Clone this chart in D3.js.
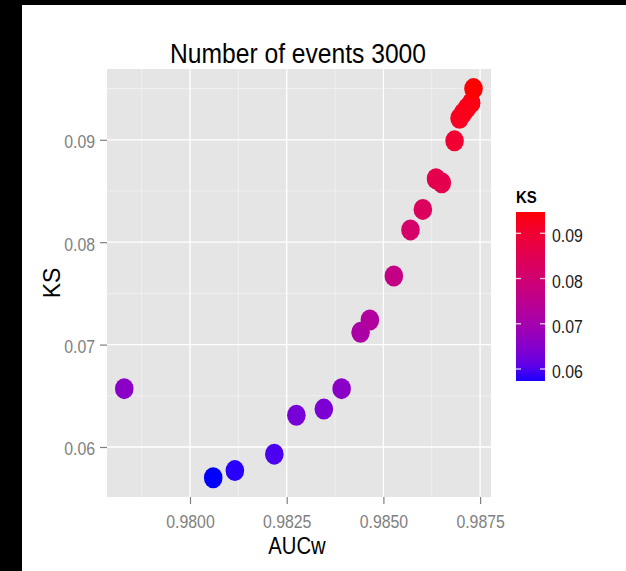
<!DOCTYPE html>
<html>
<head>
<meta charset="utf-8">
<script src="https://cdn.jsdelivr.net/npm/d3@7"></script>
<style>
  body { margin: 0; background: #fff; }
  text { font-family: "Liberation Sans", Arial, sans-serif; }
</style>
</head>
<body>
<div id="chart"></div>
<script>
// --- Data ---
const aucw = [0.97830, 0.98060, 0.98116, 0.98218, 0.98275, 0.98346, 0.98392, 0.98441, 0.98465, 0.98527,
              0.98570, 0.98602, 0.98636, 0.98651, 0.98684, 0.98697, 0.98706, 0.98716, 0.98727, 0.98733];
const ks   = [0.0657, 0.0570, 0.0577, 0.0593, 0.0631, 0.0637, 0.0657, 0.0712, 0.0724, 0.0767,
              0.0812, 0.0832, 0.0862, 0.0858, 0.0899, 0.0921, 0.0926, 0.0931, 0.0936, 0.0950];
const xTicks = [0.9800, 0.9825, 0.9850, 0.9875];
const yTicks = [0.06, 0.07, 0.08, 0.09];
const xMinor = [0.97875, 0.98125, 0.98375, 0.98625];
const yMinor = [0.065, 0.075, 0.085, 0.095];
const legendTicks = [0.06, 0.07, 0.08, 0.09];

const W = 626, H = 571;
const squeeze = 0.88; // the reference text is a little narrow

const svg = d3.select("#chart").append("svg")
    .attr("width", W).attr("height", H);

// black frame edges in the screenshot
svg.append("rect").attr("x", 0).attr("y", 0).attr("width", 22).attr("height", H).attr("fill", "#000");
svg.append("rect").attr("x", 0).attr("y", 0).attr("width", W).attr("height", 5).attr("fill", "#000");

// --- Panel ---
const panel = { left: 107, right: 491, top: 69, bottom: 497 };
const x = d3.scaleLinear().domain([0.977854, 0.987782]).range([panel.left, panel.right]);
const y = d3.scaleLinear().domain([0.055117, 0.096914]).range([panel.bottom, panel.top]);
const color = d3.scaleSequential(d3.interpolateLab("blue", "red")).domain(d3.extent(ks));

svg.append("rect")
    .attr("x", panel.left).attr("y", panel.top)
    .attr("width", panel.right - panel.left).attr("height", panel.bottom - panel.top)
    .attr("fill", "#E5E5E5");

const grid = svg.append("g");
grid.selectAll(".xminor").data(xMinor).join("line")
    .attr("x1", d => x(d)).attr("x2", d => x(d))
    .attr("y1", panel.top).attr("y2", panel.bottom)
    .attr("stroke", "#F2F2F2").attr("stroke-width", 0.8);
grid.selectAll(".yminor").data(yMinor).join("line")
    .attr("y1", d => y(d)).attr("y2", d => y(d))
    .attr("x1", panel.left).attr("x2", panel.right)
    .attr("stroke", "#F2F2F2").attr("stroke-width", 0.8);
grid.selectAll(".xmajor").data(xTicks).join("line")
    .attr("x1", d => x(d)).attr("x2", d => x(d))
    .attr("y1", panel.top).attr("y2", panel.bottom)
    .attr("stroke", "#fff").attr("stroke-width", 1.3);
grid.selectAll(".ymajor").data(yTicks).join("line")
    .attr("y1", d => y(d)).attr("y2", d => y(d))
    .attr("x1", panel.left).attr("x2", panel.right)
    .attr("stroke", "#fff").attr("stroke-width", 1.3);

// --- Points ---
const points = aucw.map((a, i) => ({ auc: a, ks: ks[i] }));
svg.append("g").selectAll("ellipse").data(points).join("ellipse")
    .attr("cx", d => x(d.auc)).attr("cy", d => y(d.ks))
    .attr("rx", 9.3).attr("ry", 10.5)
    .attr("fill", d => color(d.ks));

// --- Axes ---
const xAxis = svg.append("g")
    .attr("transform", `translate(0,${panel.bottom})`)
    .call(d3.axisBottom(x).tickValues(xTicks).tickFormat(d3.format(".4f")).tickSize(7));
xAxis.select(".domain").remove();
xAxis.selectAll("line").attr("stroke", "#7F7F7F").attr("stroke-width", 1.2);
xAxis.selectAll("text")
    .attr("y", 18).attr("dy", "0.71em")
    .attr("transform", `scale(${squeeze},1)`)
    .style("font-size", "18px").style("fill", "#808080")
    .style("font-family", "Liberation Sans, Arial, sans-serif");

const yAxis = svg.append("g")
    .attr("transform", `translate(${panel.left},0)`)
    .call(d3.axisLeft(y).tickValues(yTicks).tickFormat(d3.format(".2f")).tickSize(7));
yAxis.select(".domain").remove();
yAxis.selectAll("line").attr("stroke", "#7F7F7F").attr("stroke-width", 1.2);
yAxis.selectAll("text")
    .attr("x", -12 / squeeze).attr("dy", "0.44em")
    .attr("transform", `scale(${squeeze},1)`)
    .style("font-size", "18px").style("fill", "#808080")
    .style("font-family", "Liberation Sans, Arial, sans-serif");

// helper for horizontally squeezed text
function label(px, py, str, size, opts = {}) {
    return svg.append("text")
        .attr("transform", `translate(${px},${py}) scale(${squeeze},1)`)
        .attr("text-anchor", opts.anchor || "start")
        .attr("font-weight", opts.weight || "normal")
        .style("font-size", size + "px")
        .style("fill", opts.fill || "#000")
        .text(str);
}

label(298, 63, "Number of events 3000", 28, { anchor: "middle" });
label(297, 554, "AUCw", 23, { anchor: "middle" });

svg.append("text")
    .attr("transform", "translate(60,283) rotate(-90)")
    .attr("text-anchor", "middle")
    .style("font-size", "23px")
    .text("KS");

// --- Colour legend ---
const bar = { x: 516, width: 29, top: 212, bottom: 381 };
const ly = d3.scaleLinear().domain([0.06, 0.09]).range([369, 233.3]);

const grad = svg.append("defs").append("linearGradient")
    .attr("id", "ksgrad").attr("x1", 0).attr("y1", 1).attr("x2", 0).attr("y2", 0);
d3.range(0, 1.0001, 0.1).forEach(t => {
    const v = ly.invert(bar.bottom + t * (bar.top - bar.bottom));
    grad.append("stop").attr("offset", t).attr("stop-color", color(v));
});

svg.append("rect")
    .attr("x", bar.x).attr("y", bar.top)
    .attr("width", bar.width).attr("height", bar.bottom - bar.top)
    .attr("fill", "url(#ksgrad)");

const lt = svg.append("g");
lt.selectAll(".tl").data(legendTicks).join("line")
    .attr("x1", bar.x).attr("x2", bar.x + 5)
    .attr("y1", d => ly(d)).attr("y2", d => ly(d))
    .attr("stroke", "#fff").attr("stroke-opacity", 0.8).attr("stroke-width", 1.3);
lt.selectAll(".tr").data(legendTicks).join("line")
    .attr("x1", bar.x + bar.width - 5).attr("x2", bar.x + bar.width)
    .attr("y1", d => ly(d)).attr("y2", d => ly(d))
    .attr("stroke", "#fff").attr("stroke-opacity", 0.8).attr("stroke-width", 1.3);

legendTicks.forEach(v => {
    label(552, ly(v) + 9, d3.format(".2f")(v), 18, { fill: "#1a1a1a" });
});
label(516, 203, "KS", 17, { weight: "bold" });
</script>
</body>
</html>
